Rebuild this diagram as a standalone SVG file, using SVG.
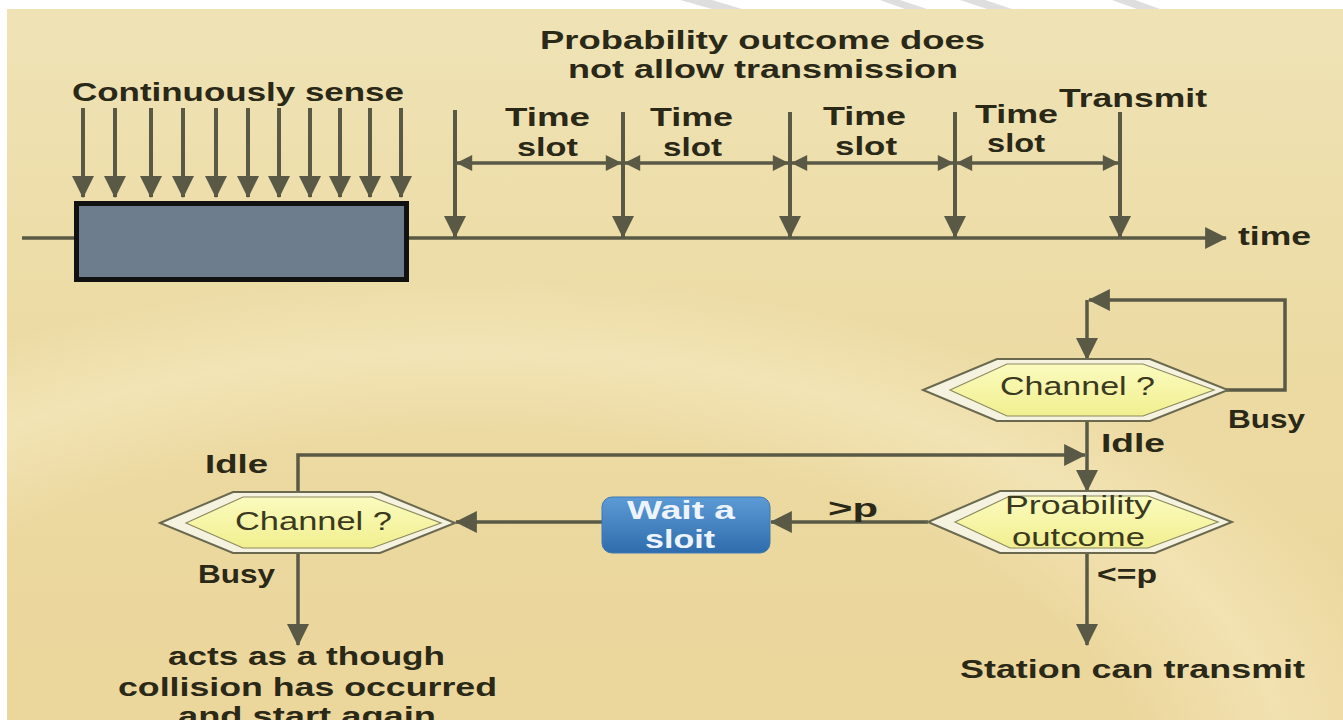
<svg xmlns="http://www.w3.org/2000/svg" width="1343" height="720" viewBox="0 0 1343 720">
  <defs>
    <linearGradient id="bg" x1="0" y1="0" x2="0" y2="1">
      <stop offset="0" stop-color="#efe3b6"/>
      <stop offset="0.45" stop-color="#ecdba4"/>
      <stop offset="1" stop-color="#ebd69b"/>
    </linearGradient>
    <radialGradient id="glow" cx="0.35" cy="1.1" r="0.9">
      <stop offset="0.55" stop-color="#fff6d8" stop-opacity="0"/>
      <stop offset="0.68" stop-color="#fff6d8" stop-opacity="0.35"/>
      <stop offset="0.8" stop-color="#fff6d8" stop-opacity="0"/>
    </radialGradient>
    <linearGradient id="hexFill" x1="0" y1="0" x2="0" y2="1">
      <stop offset="0" stop-color="#fbfbbf"/>
      <stop offset="1" stop-color="#f1ef8f"/>
    </linearGradient>
    <linearGradient id="btnFill" x1="0" y1="0" x2="0" y2="1">
      <stop offset="0" stop-color="#5d9bd6"/>
      <stop offset="1" stop-color="#2f6cac"/>
    </linearGradient>
    <marker id="ah" viewBox="0 0 20 20" refX="19" refY="10" markerWidth="22" markerHeight="22" markerUnits="userSpaceOnUse" orient="auto-start-reverse">
      <path d="M0,0 L20,10 L0,20 z" fill="#595946"/>
    </marker>
    <marker id="ahs" viewBox="0 0 20 20" refX="19" refY="10" markerWidth="18" markerHeight="16" markerUnits="userSpaceOnUse" orient="auto-start-reverse">
      <path d="M0,0 L20,10 L0,20 z" fill="#595946"/>
    </marker>
    <style>
      .lbl { font-family: "Liberation Sans", Arial, sans-serif; font-weight: bold; font-size: 26px; fill: #2a2817; }
      .shp { font-family: "Liberation Sans", Arial, sans-serif; font-size: 25px; fill: #3b3a20; }
      .btn { font-family: "Liberation Sans", Arial, sans-serif; font-weight: bold; font-size: 26px; fill: #eef4ff; }
      .ln { fill: none; stroke: #595946; stroke-width: 4; }
      .thin { fill: none; stroke: #595946; stroke-width: 3.5; }
      .hexOut { fill: #f5f2df; stroke: #6a6950; stroke-width: 2; }
      .hexIn { fill: url(#hexFill); stroke: #8c8a5e; stroke-width: 1.2; }
    </style>
  </defs>

  <!-- background -->
  <rect x="0" y="0" width="1343" height="720" fill="url(#bg)"/>
  <rect x="0" y="0" width="1343" height="720" fill="url(#glow)"/>
  <rect x="0" y="0" width="1343" height="9" fill="#ffffff"/>
  <rect x="0" y="0" width="7" height="720" fill="#ffffff"/>
  <g fill="#dedede">
    <polygon points="680,0 712,0 742,9 712,9"/>
    <polygon points="880,0 900,0 927,9 905,9"/>
    <polygon points="960,0 985,0 1012,9 987,9"/>
    <polygon points="1112,0 1135,0 1160,9 1137,9"/>
  </g>

  <!-- timeline -->
  <g id="timeline">
    <path class="thin" d="M22,238 H1226" marker-end="url(#ah)"/>
    <text class="lbl" x="1238" y="245" textLength="73" lengthAdjust="spacingAndGlyphs">time</text>
  </g>

  <!-- continuous sensing period -->
  <g id="sense">
    <text class="lbl" x="72" y="101" textLength="332" lengthAdjust="spacingAndGlyphs">Continuously sense</text>
    <g class="ln" marker-end="url(#ah)">
      <path d="M83,108 V197" marker-end="url(#ah)"/>
      <path d="M115,108 V197" marker-end="url(#ah)"/>
      <path d="M151,108 V197" marker-end="url(#ah)"/>
      <path d="M183,108 V197" marker-end="url(#ah)"/>
      <path d="M216,108 V197" marker-end="url(#ah)"/>
      <path d="M248,108 V197" marker-end="url(#ah)"/>
      <path d="M279,108 V197" marker-end="url(#ah)"/>
      <path d="M310,108 V197" marker-end="url(#ah)"/>
      <path d="M340,108 V197" marker-end="url(#ah)"/>
      <path d="M370,108 V197" marker-end="url(#ah)"/>
      <path d="M401,108 V197" marker-end="url(#ah)"/>
    </g>
    <rect x="76.5" y="203.5" width="330" height="76" fill="#6d7d8d" stroke="#111111" stroke-width="5"/>
  </g>

  <!-- time slots -->
  <g id="slots">
    <text class="lbl" x="540" y="49" textLength="445" lengthAdjust="spacingAndGlyphs">Probability outcome does</text>
    <text class="lbl" x="568" y="78" textLength="390" lengthAdjust="spacingAndGlyphs">not allow transmission</text>
    <path class="ln" d="M455,110 V237" marker-end="url(#ah)"/>
    <path class="ln" d="M623,112 V237" marker-end="url(#ah)"/>
    <path class="ln" d="M790,112 V237" marker-end="url(#ah)"/>
    <path class="ln" d="M955,112 V237" marker-end="url(#ah)"/>
    <path class="ln" d="M1120,112 V237" marker-end="url(#ah)"/>
    <path class="thin" d="M457,163 H621" marker-start="url(#ahs)" marker-end="url(#ahs)"/>
    <path class="thin" d="M625,163 H788" marker-start="url(#ahs)" marker-end="url(#ahs)"/>
    <path class="thin" d="M792,163 H953" marker-start="url(#ahs)" marker-end="url(#ahs)"/>
    <path class="thin" d="M957,163 H1118" marker-start="url(#ahs)" marker-end="url(#ahs)"/>
    <text class="lbl" x="505" y="126" textLength="85" lengthAdjust="spacingAndGlyphs">Time</text>
    <text class="lbl" x="517" y="156" textLength="61" lengthAdjust="spacingAndGlyphs">slot</text>
    <text class="lbl" x="650" y="126" textLength="83" lengthAdjust="spacingAndGlyphs">Time</text>
    <text class="lbl" x="663" y="156" textLength="59" lengthAdjust="spacingAndGlyphs">slot</text>
    <text class="lbl" x="823" y="125" textLength="83" lengthAdjust="spacingAndGlyphs">Time</text>
    <text class="lbl" x="835" y="155" textLength="62" lengthAdjust="spacingAndGlyphs">slot</text>
    <text class="lbl" x="975" y="123" textLength="83" lengthAdjust="spacingAndGlyphs">Time</text>
    <text class="lbl" x="987" y="152" textLength="58" lengthAdjust="spacingAndGlyphs">slot</text>
    <text class="lbl" x="1059" y="107" textLength="148" lengthAdjust="spacingAndGlyphs">Transmit</text>
  </g>

  <!-- flowchart connectors -->
  <g id="connectors">
    <path class="thin" d="M1226,390 H1285 V300 H1089" marker-end="url(#ah)"/>
    <path class="thin" d="M1087,300 V359" marker-end="url(#ah)"/>
    <path class="thin" d="M1087,421 V491" marker-end="url(#ah)"/>
    <path class="thin" d="M298,492 V455 H1085" marker-end="url(#ah)"/>
    <path class="thin" d="M928,522 H771" marker-end="url(#ah)"/>
    <path class="thin" d="M602,522 H456" marker-end="url(#ah)"/>
    <path class="thin" d="M298,553 V645" marker-end="url(#ah)"/>
    <path class="thin" d="M1087,553 V645" marker-end="url(#ah)"/>
    <text class="lbl" x="1228" y="428" textLength="77" lengthAdjust="spacingAndGlyphs">Busy</text>
    <text class="lbl" x="1101" y="452" textLength="64" lengthAdjust="spacingAndGlyphs">Idle</text>
    <text class="lbl" x="205" y="473" textLength="63" lengthAdjust="spacingAndGlyphs">Idle</text>
    <text class="lbl" x="198" y="583" textLength="77" lengthAdjust="spacingAndGlyphs">Busy</text>
    <text class="lbl" x="828" y="517" textLength="50" lengthAdjust="spacingAndGlyphs">&gt;p</text>
    <text class="lbl" x="1097" y="583" textLength="60" lengthAdjust="spacingAndGlyphs">&lt;=p</text>
  </g>

  <!-- decision: channel state (top right) -->
  <g id="channel-right">
    <polygon class="hexOut" points="923,390 997,359 1150,359 1228,390 1150,421 997,421"/>
    <polygon class="hexIn" points="950,390 1007,364 1143,364 1214,390 1143,416 1007,416"/>
    <text class="shp" x="1000" y="395" textLength="155" lengthAdjust="spacingAndGlyphs">Channel ?</text>
  </g>

  <!-- decision: probability outcome -->
  <g id="probability">
    <polygon class="hexOut" points="928,522 1000,491 1155,491 1232,522 1155,553 1000,553"/>
    <polygon class="hexIn" points="955,522 1010,496 1148,496 1218,522 1148,548 1010,548"/>
    <text class="shp" x="1005" y="514" textLength="147" lengthAdjust="spacingAndGlyphs">Proability</text>
    <text class="shp" x="1012" y="546" textLength="133" lengthAdjust="spacingAndGlyphs">outcome</text>
  </g>

  <!-- wait step -->
  <g id="wait">
    <rect x="602" y="497" width="168" height="56" rx="10" fill="url(#btnFill)" stroke="#3d78b4" stroke-width="1"/>
    <text class="btn" x="627" y="519" textLength="108" lengthAdjust="spacingAndGlyphs">Wait a</text>
    <text class="btn" x="645" y="548" textLength="70" lengthAdjust="spacingAndGlyphs">sloit</text>
  </g>

  <!-- decision: channel state (left) -->
  <g id="channel-left">
    <polygon class="hexOut" points="160,523 233,492 380,492 455,523 380,553 233,553"/>
    <polygon class="hexIn" points="186,523 243,497 372,497 441,523 372,548 243,548"/>
    <text class="shp" x="235" y="530" textLength="157" lengthAdjust="spacingAndGlyphs">Channel ?</text>
  </g>

  <!-- outcomes -->
  <g id="outcome-collision">
    <text class="lbl" x="168" y="665" textLength="277" lengthAdjust="spacingAndGlyphs">acts as a though</text>
    <text class="lbl" x="118" y="696" textLength="379" lengthAdjust="spacingAndGlyphs">collision has occurred</text>
    <text class="lbl" x="178" y="725" textLength="258" lengthAdjust="spacingAndGlyphs">and start again</text>
  </g>
  <g id="outcome-transmit">
    <text class="lbl" x="960" y="678" textLength="345" lengthAdjust="spacingAndGlyphs">Station can transmit</text>
  </g>
</svg>
